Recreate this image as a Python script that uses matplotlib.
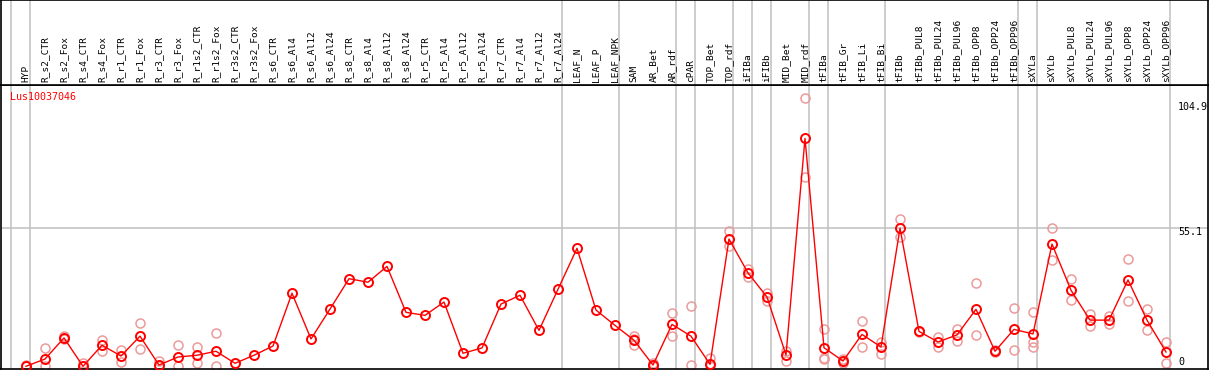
import matplotlib
matplotlib.use('Agg')
import matplotlib.pyplot as plt

plt.rcParams['font.family'] = ['DejaVu Sans Mono']

samples = ['HYP', 'R_s2_CTR', 'R_s2_Fox', 'R_s4_CTR', 'R_s4_Fox', 'R_r1_CTR', 'R_r1_Fox',
           'R_r3_CTR', 'R_r3_Fox', 'R_r1s2_CTR', 'R_r1s2_Fox', 'R_r3s2_CTR', 'R_r3s2_Fox',
           'R_s6_CTR', 'R_s6_Al4', 'R_s6_Al12', 'R_s6_Al24', 'R_s8_CTR', 'R_s8_Al4',
           'R_s8_Al12', 'R_s8_Al24', 'R_r5_CTR', 'R_r5_Al4', 'R_r5_Al12', 'R_r5_Al24',
           'R_r7_CTR', 'R_r7_Al4', 'R_r7_Al12', 'R_r7_Al24', 'LEAF_N', 'LEAF_P', 'LEAF_NPK',
           'SAM', 'AR_Bet', 'AR_rdf', 'cPAR', 'TOP_Bet', 'TOP_rdf', 'iFIBa', 'iFIBb',
           'MID_Bet', 'MID_rdf', 'tFIBa', 'tFIB_Gr', 'tFIB_Li', 'tFIB_Bi', 'tFIBb',
           'tFIBb_PUL8', 'tFIBb_PUL24', 'tFIBb_PUL96', 'tFIBb_OPP8', 'tFIBb_OPP24',
           'tFIBb_OPP96', 'sXYLa', 'sXYLb', 'sXYLb_PUL8', 'sXYLb_PUL24', 'sXYLb_PUL96',
           'sXYLb_OPP8', 'sXYLb_OPP24', 'sXYLb_OPP96']

# mean expression per sample
means = [0.0, 2.9, 11.3, 0.0, 8.4, 4.1, 12.0, 0.5, 3.7, 4.4, 6.0, 1.2, 4.4,
         8.1, 29.1, 10.9, 22.8, 34.9, 33.5, 39.8, 21.5, 20.3, 25.6, 5.2, 7.3,
         24.8, 28.3, 14.3, 30.7, 47.0, 22.4, 16.3,
         10.4, 0.5, 16.7, 12.0, 0.8, 50.7, 37.2, 27.6, 4.5, 90.8,
         7.4, 2.1, 12.7, 7.7, 55.0, 13.9, 9.7, 12.5, 22.7, 6.0, 14.7,
         12.9, 48.7, 30.3, 18.4, 18.4, 34.4, 18.4, 5.7]

# individual replicates (empty where only one sample)
reps = [[0.5, 0.0], [7.2, 0.0], [12.0, 11.0], [1.4, 0.0], [10.5, 6.1], [6.5, 1.6],
        [17.1, 6.8], [2.2, 0.0], [8.4, 0.0], [7.6, 1.4], [13.1, 0.0], [], [],
        [], [], [], [], [], [], [], [], [], [], [], [],
        [], [], [], [], [], [], [],
        [12.2, 8.5, 10.8], [0.3, 1.2, 0.0], [21.2, 12.0], [23.9, 0.4], [3.2, 0.0],
        [53.9, 47.8], [38.8, 35.5], [29.1, 26.0], [6.2, 2.2], [106.8, 75.3],
        [14.9, 3.4, 3.0], [2.8, 1.4], [17.9, 7.7], [9.7, 4.8], [58.6, 51.4],
        [14.2, 13.6], [11.7, 7.6], [14.7, 10.2], [33.1, 12.4], [6.3, 5.8], [23.1, 6.4],
        [21.5, 9.6, 7.6], [55.0, 42.2], [34.7, 26.3], [20.7, 16.1], [20.0, 16.9],
        [42.6, 25.9], [22.8, 14.5], [9.6, 1.2]]

# group separators sit just right of these samples
separators = [-1, 0, 28, 31, 34, 35, 37, 38, 39, 41, 42, 45, 52, 53, 60]

gene = 'Lus10037046'
scale_labels = ['104.9', '55.1', '0']
scale_pos = [103.3, 53.5, 1.7]

W, H = 1209, 370
fig = plt.figure(figsize=(W / 100., H / 100.), dpi=100)

x0, x1 = (1 - 26) / 19., (1208 - 26) / 19.
ax = fig.add_axes([1. / W, 1. / H, 1207. / W, 284. / H])
top = fig.add_axes([1. / W, 285. / H, 1207. / W, 85. / H])

x = list(range(len(samples)))
for a in (ax, top):
    a.set_xlim(x0, x1)
    a.set_xticks([])
    a.set_yticks([])
    for s in a.spines.values():
        s.set_color('black')
        s.set_linewidth(1.2)
    for i in separators:
        a.axvline(i + 0.22, color='#c0c0c0', lw=1.1, zorder=0)

ax.set_ylim((366.3 - 369) / 2.51, (366.3 - 85) / 2.51)
top.set_ylim(0, 1)

ax.axhline(55.1, color='#c0c0c0', lw=1.1, zorder=0)

rx, ry = [], []
for i, r in enumerate(reps):
    for v in r:
        rx.append(i)
        ry.append(v)
ax.plot(rx, ry, linestyle='None', marker='o', markersize=6.5, markerfacecolor='none',
        markeredgecolor='#ec9a9a', markeredgewidth=1.1, zorder=2)
ax.plot(x, means, color='red', lw=1.0, marker='o', markersize=6.5,
        markerfacecolor='none', markeredgecolor='red', markeredgewidth=1.4, zorder=3)

for i, name in enumerate(samples):
    top.text(i, 3. / 85, name, rotation=90, ha='center', va='bottom', fontsize=6.8)

ax.text((10 - 26) / 19., (366.3 - 97) / 2.51, gene, color='red', fontsize=7.2,
        ha='left', va='center')
for lab, v in zip(scale_labels, scale_pos):
    ax.text((1178 - 26) / 19., v, lab, fontsize=7.2, ha='left', va='center')

fig.savefig('out.png', dpi=100)
